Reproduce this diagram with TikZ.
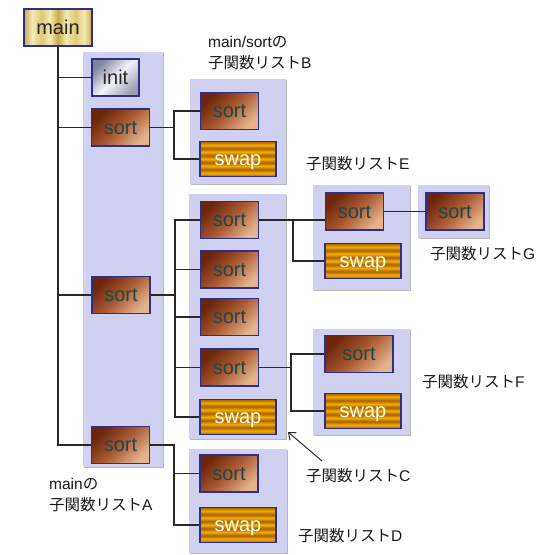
\documentclass[tikz,border=0pt]{standalone}
\usepackage{fontspec}
\setmainfont{Liberation Sans}
\newfontfamily\jpfont{Noto Sans CJK JP}
\usetikzlibrary{shadows,arrows.meta,calc}
\definecolor{panelfill}{RGB}{208,208,240}
\definecolor{boxblue}{RGB}{46,46,140}
\definecolor{sortdark}{RGB}{108,38,12}
\definecolor{sortmid}{RGB}{170,90,50}
\definecolor{sortlight}{RGB}{228,180,142}
\definecolor{sorttext}{RGB}{30,72,72}
\definecolor{swapdark}{RGB}{165,98,0}
\definecolor{swaplight}{RGB}{246,172,0}
\definecolor{golddark}{RGB}{200,172,80}
\definecolor{goldmid}{RGB}{222,200,118}
\definecolor{goldlight}{RGB}{244,234,180}
\definecolor{initdark}{RGB}{128,134,156}
\definecolor{initlight}{RGB}{242,242,248}
\definecolor{initmid}{RGB}{156,160,178}
\definecolor{linecol}{RGB}{40,40,40}
\definecolor{lbltext}{RGB}{25,25,25}
\pgfdeclareverticalshading{swapstripe}{100bp}{color(0bp)=(swapdark); color(25bp)=(swapdark); color(30bp)=(swaplight); color(35bp)=(swapdark); color(40bp)=(swaplight); color(45bp)=(swapdark); color(50bp)=(swaplight); color(55bp)=(swapdark); color(60bp)=(swaplight); color(65bp)=(swapdark); color(70bp)=(swaplight); color(75bp)=(swapdark); color(100bp)=(swapdark)}
\pgfdeclarehorizontalshading{goldstripe}{100bp}{color(0bp)=(golddark); color(25bp)=(golddark); color(31bp)=(goldlight); color(38bp)=(goldmid); color(44bp)=(goldlight); color(50bp)=(golddark); color(56bp)=(goldlight); color(63bp)=(goldmid); color(69bp)=(goldlight); color(75bp)=(golddark); color(100bp)=(golddark)}
\newcommand{\bxfont}{\fontsize{20}{24}\selectfont}
\newcommand{\lbfont}{\fontsize{15.5}{21}\selectfont}
\tikzset{
  fbox/.style={draw=boxblue, line width=1.1pt, minimum height=37pt, inner sep=0pt,
    font=\bxfont, text height=17.4pt, text depth=4pt},
  sortbox/.style={fbox, minimum width=58pt, top color=sortdark, bottom color=sortlight,
    middle color=sortmid, shading angle=45, text=sorttext},
  swapbox/.style={fbox, minimum width=76pt, minimum height=35pt, shade, shading=swapstripe, text=white},
  mainbox/.style={fbox, minimum width=68pt, shade, shading=goldstripe, text=black!85},
  initbox/.style={fbox, minimum width=47pt, top color=initdark, bottom color=initmid,
    middle color=initlight, shading angle=45, text=black!85},
  panel/.style={fill=panelfill, drop shadow={shadow xshift=1.3pt, shadow yshift=-1.3pt, fill=black, opacity=0.28}},
  lbl/.style={font=\lbfont, text=lbltext, align=left, inner sep=0pt, anchor=west},
  conn/.style={line width=1.2pt, draw=linecol},
}
\begin{document}
\begin{tikzpicture}[x=1pt,y=-1pt]
\useasboundingbox[fill=white] (0,0) rectangle (540,555);
% panels
\path[panel] (83,52) rectangle (163,467);
\path[panel] (190,79) rectangle (286,184);
\path[panel] (189,194) rectangle (286,439);
\path[panel] (189,449) rectangle (287,553);
\path[panel] (313,185) rectangle (410,290);
\path[panel] (313,329) rectangle (410,435);
\path[panel] (418,185) rectangle (489,238);
% boxes
\node[mainbox] (main) at (58,27.5) {main};
\node[initbox] (init) at (115.5,77.5) {init};
\node[sortbox] (sA1) at (120.5,127.5) {sort};
\node[sortbox] (sA2) at (121,295) {sort};
\node[sortbox] (sA3) at (120.5,445) {sort};
\node[sortbox] (sB) at (229.5,111) {sort};
\node[swapbox] (wB) at (238,159) {swap};
\node[sortbox] (sC1) at (229.5,220) {sort};
\node[sortbox] (sC2) at (229.5,269.5) {sort};
\node[sortbox] (sC3) at (229.5,317) {sort};
\node[sortbox] (sC4) at (229.5,367.5) {sort};
\node[swapbox] (wC) at (238,417) {swap};
\node[sortbox] (sD) at (229,473.5) {sort};
\node[swapbox] (wD) at (238,525) {swap};
\node[sortbox] (sE) at (354.5,211.5) {sort};
\node[swapbox] (wE) at (363,261) {swap};
\node[sortbox] (sG) at (455,211.5) {sort};
\node[sortbox, minimum width=68pt] (sF) at (359,354) {sort};
\node[swapbox] (wF) at (363,411) {swap};
% connectors
\draw[conn] (main.south) |- (init.west);
\draw[conn] (main.south) |- (sA1.west);
\draw[conn] (main.south) |- (sA2.west);
\draw[conn] (main.south) |- (sA3.west);
\coordinate (jA1) at (174,127.5);
\draw[conn] (sA1.east) -- (jA1) |- (sB.west);
\draw[conn] (jA1) |- (wB.west);
\coordinate (jA2) at (175,295);
\draw[conn] (sA2.east) -- (jA2) |- (sC1.west);
\draw[conn] (jA2) |- (sC2.west);
\draw[conn] (jA2) |- (sC3.west);
\draw[conn] (jA2) |- (sC4.west);
\draw[conn] (jA2) |- (wC.west);
\coordinate (jA3) at (174,445);
\draw[conn] (sA3.east) -- (jA3) |- (sD.west);
\draw[conn] (jA3) |- (wD.west);
\coordinate (jC1) at (293,220);
\draw[conn] (sC1.east) -- (sC1.east -| sE.west);
\draw[conn] (jC1) |- (wE.west);
\draw[conn] (sE.east) -- (sG.west);
\coordinate (jC4) at (291,367.5);
\draw[conn] (sC4.east) -- (jC4);
\draw[conn] (jC4) |- (sF.west);
\draw[conn] (jC4) |- (wF.west);
% labels
\node[lbl] (lB) at (208,53) {main/sort{\jpfont の}\\{\jpfont 子関数リスト}B};
\node[lbl] (lE) at (306,164) {{\jpfont 子関数リスト}E};
\node[lbl] (lG) at (430,254) {{\jpfont 子関数リスト}G};
\node[lbl] (lF) at (422,382) {{\jpfont 子関数リスト}F};
\node[lbl] (lC) at (306,476) {{\jpfont 子関数リスト}C};
\node[lbl] (lD) at (298,536) {{\jpfont 子関数リスト}D};
\node[lbl] (lA) at (49,495.5) {main{\jpfont の}\\{\jpfont 子関数リスト}A};
% arrow
\coordinate (arrH) at (288,432);
\coordinate (arrT) at (322,461);
\draw[conn, line width=1pt, -{Straight Barb[length=6pt,width=10pt]}] (arrT) -- (arrH);
\end{tikzpicture}
\end{document}
